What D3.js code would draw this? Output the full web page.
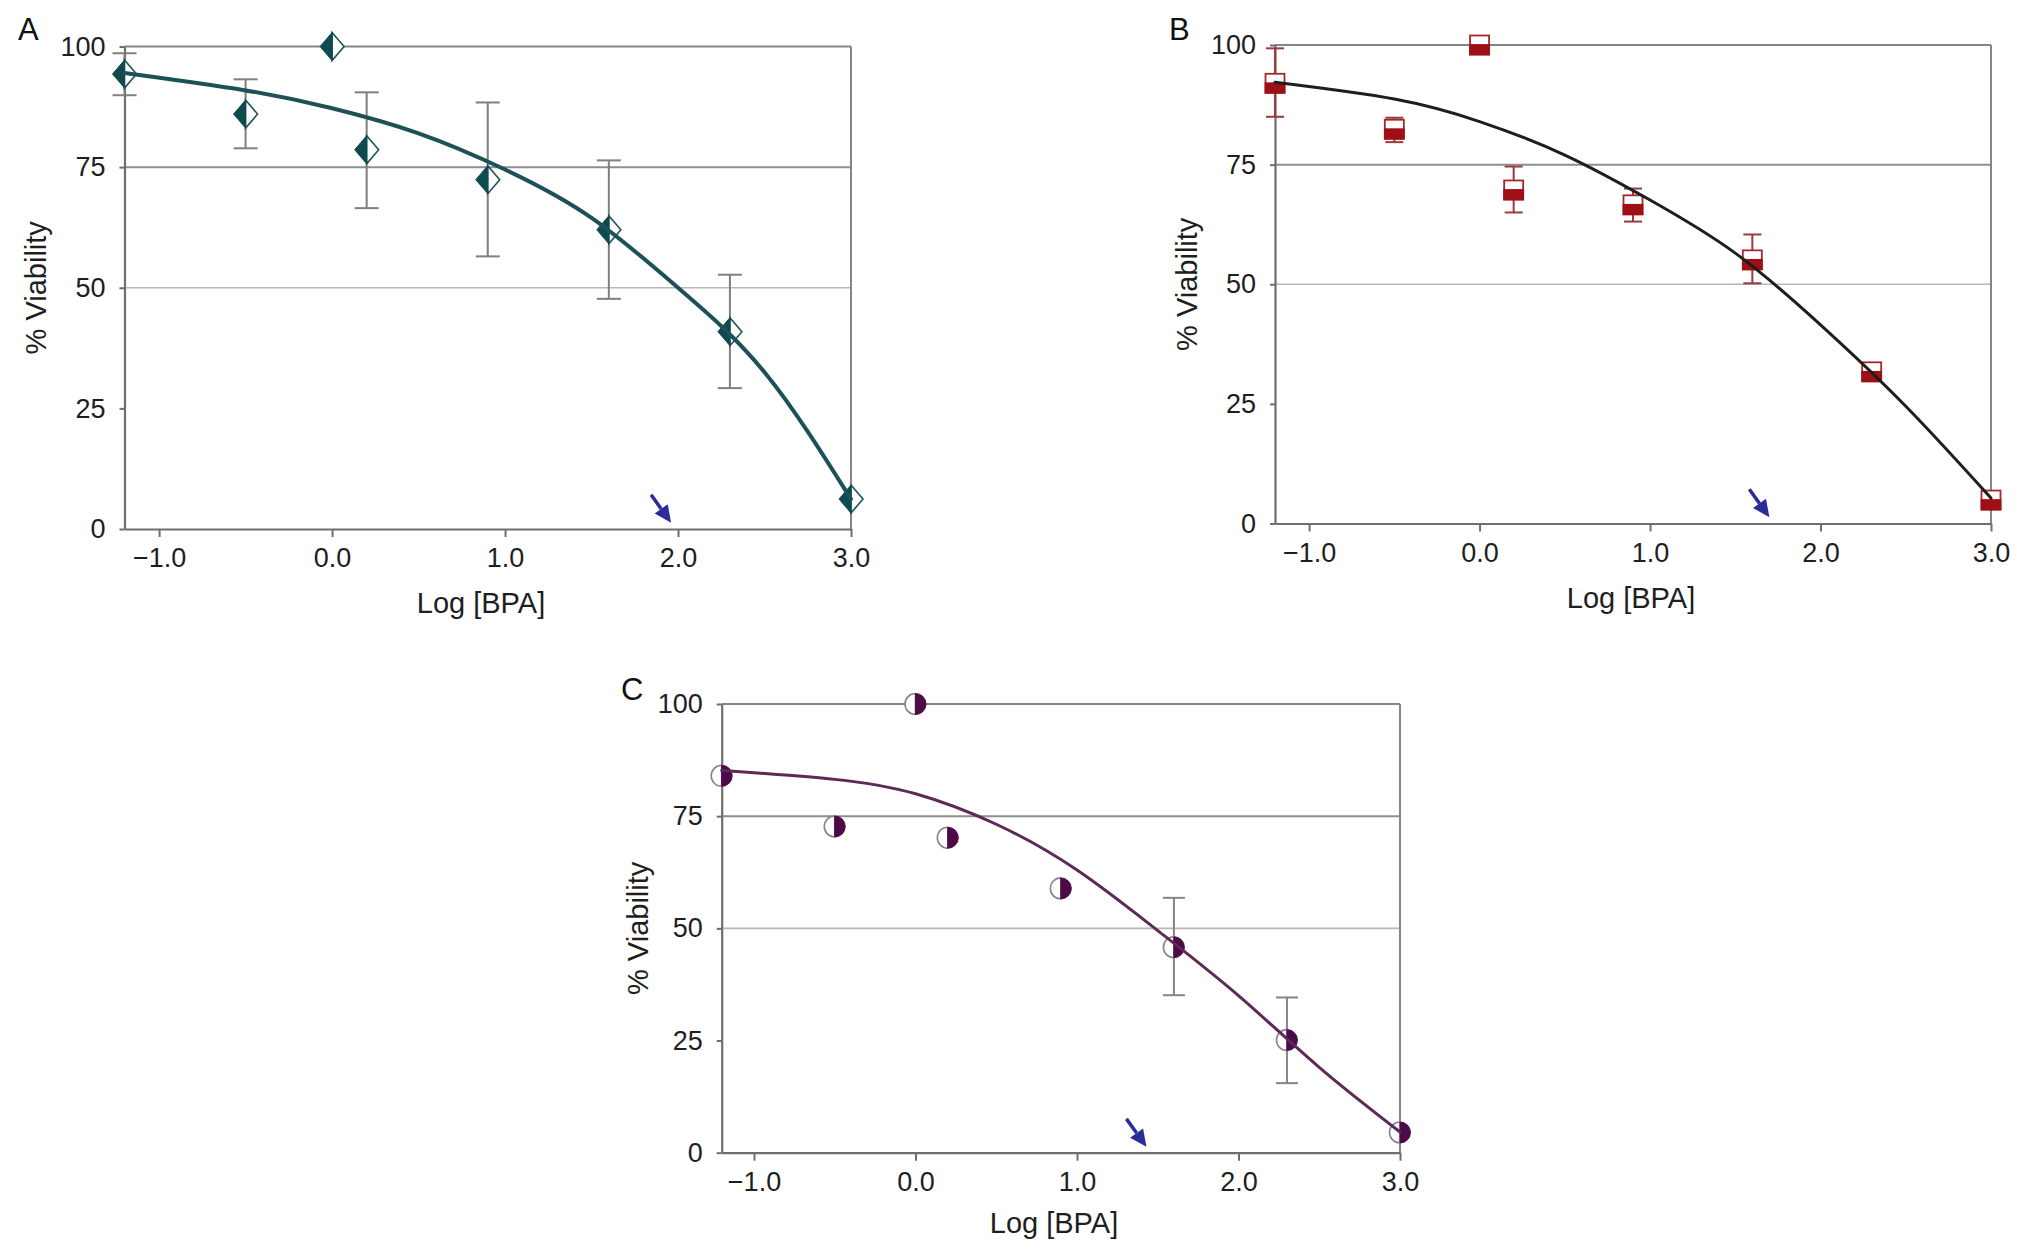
<!DOCTYPE html>
<html><head><meta charset="utf-8">
<script src="https://cdn.jsdelivr.net/npm/d3@7"></script>
<style>
body{margin:0;background:#fff}
svg{display:block}
text{font-family:"Liberation Sans",Arial,Helvetica,sans-serif}
</style>
</head><body>
<svg id="chart" width="2031" height="1251"></svg>
<script>
// ---------- data ----------
const xTicks = [-1.0, 0.0, 1.0, 2.0, 3.0];
const yTicks = [0, 25, 50, 75, 100];
const gridValues = [50, 75];
const logDose = [-1.2, -0.5, 0.0, 0.2, 0.9, 1.6, 2.3, 3.0];

const viabilityA = [94.3, 86.0, 100, 78.6, 72.4, 62.0, 40.9, 6.2];
const errLowA  = [89.9, 78.9, null, 66.5, 56.5, 47.7, 29.2, null];
const errHighA = [98.6, 93.2, null, 90.5, 88.4, 76.4, 52.7, null];
const fitXA = [-1.2, -0.5, 0, 0.5, 1.0, 1.5, 2.0, 2.5, 3.0];
const fitYA = [94.5, 90.9, 87.2, 82.0, 74.5, 64.5, 50.0, 32.5, 6.2];
const arrowA = 1.96;

const viabilityB = [92.0, 82.4, 100, 69.7, 66.6, 55.1, 31.7, 4.9];
const errLowB  = [85.0, 79.7, null, 65.0, 63.1, 50.2, null, null];
const errHighB = [99.3, 84.8, null, 74.6, 70.0, 60.4, null, null];
const fitXB = [-1.2, -0.5, 0, 0.5, 1.0, 1.5, 2.0, 2.5, 3.0];
const fitYB = [92.2, 88.7, 84.0, 77.0, 67.6, 56.5, 41.5, 24.5, 5.3];
const arrowB = 1.70;

const viabilityC = [84.0, 72.7, 100, 70.2, 58.9, 45.8, 25.1, 4.5];
const errLowC  = [null, null, null, null, null, 35.1, 15.5, null];
const errHighC = [null, null, null, null, null, 56.8, 34.6, null];
const fitXC = [-1.2, -0.5, 0, 0.5, 1.0, 1.5, 2.0, 2.5, 3.0];
const fitYC = [85.2, 83.2, 80.0, 73.2, 63.0, 49.5, 35.0, 19.0, 4.6];
const arrowC = 1.43;

const xTitle = "Log [BPA]";
const yTitle = "% Viability";

// ---------- layout / style ----------
const panels = [
  {letter:"A", left:124.5, right:851, top:46.5, bottom:529,
   letterX:18, letterY:40, yLabelX:36, xLabelX:481, xLabelY:613,
   values:viabilityA, lo:errLowA, hi:errHighA, fx:fitXA, fy:fitYA, arrow:arrowA,
   marker:"diamond", curveColor:"#1c5157", curveWidth:4, errColor:"#7f7f7f", capHalf:12},
  {letter:"B", left:1275, right:1991, top:45, bottom:523.5,
   letterX:1169, letterY:40, yLabelX:1187, xLabelX:1631, xLabelY:608,
   values:viabilityB, lo:errLowB, hi:errHighB, fx:fitXB, fy:fitYB, arrow:arrowB,
   marker:"square", curveColor:"#1e1e1e", curveWidth:3, errColor:"#9b3a3a", capHalf:9},
  {letter:"C", left:721.7, right:1400, top:704, bottom:1152.7,
   letterX:621, letterY:700, yLabelX:638, xLabelX:1054, xLabelY:1233,
   values:viabilityC, lo:errLowC, hi:errHighC, fx:fitXC, fy:fitYC, arrow:arrowC,
   marker:"circle", curveColor:"#5b2a55", curveWidth:3, errColor:"#858585", capHalf:11}
];

const svg = d3.select("#chart");
const axisColor = "#6e6e6e";

panels.forEach(p => {
  const x = d3.scaleLinear().domain([-1.2, 3.0]).range([p.left, p.right]);
  const y = d3.scaleLinear().domain([0, 100]).range([p.bottom, p.top]);
  const g = svg.append("g");

  // gridlines
  g.selectAll(".grid").data(gridValues).enter().append("line")
    .attr("x1", p.left).attr("x2", p.right)
    .attr("y1", d => y(d)).attr("y2", d => y(d))
    .attr("stroke", d => d === 75 ? "#8e8e8e" : "#b8b8b8")
    .attr("stroke-width", d => d === 75 ? 2 : 1.6);
  // top and right borders
  g.append("line").attr("x1", p.left).attr("x2", p.right)
    .attr("y1", y(100)).attr("y2", y(100))
    .attr("stroke", "#858585").attr("stroke-width", 2);
  g.append("line").attr("x1", p.right).attr("x2", p.right)
    .attr("y1", y(100)).attr("y2", y(0))
    .attr("stroke", "#858585").attr("stroke-width", 2);

  // axes
  const ya = g.append("g").attr("transform", `translate(${p.left},0)`)
    .call(d3.axisLeft(y).tickValues(yTicks).tickSize(5).tickSizeOuter(0).tickPadding(14).tickFormat(d3.format("d")));
  const xa = g.append("g").attr("transform", `translate(0,${p.bottom})`)
    .call(d3.axisBottom(x).tickValues(xTicks).tickSize(8).tickSizeOuter(0).tickPadding(11).tickFormat(d3.format(".1f")));
  [ya, xa].forEach(a => {
    a.select(".domain").attr("stroke", axisColor).attr("stroke-width", 2.2);
    a.selectAll(".tick line").attr("stroke", axisColor).attr("stroke-width", 2);
    a.selectAll(".tick text").attr("fill", "#1e1e1e").style("font-size", "27px")
      .style("font-family", '"Liberation Sans",Arial,sans-serif');
  });

  // titles
  g.append("text").attr("x", p.xLabelX).attr("y", p.xLabelY)
    .attr("text-anchor", "middle").attr("fill", "#1e1e1e").style("font-size", "29px").text(xTitle);
  g.append("text").attr("transform", `translate(${p.yLabelX},${(p.top + p.bottom) / 2}) rotate(-90)`)
    .attr("text-anchor", "middle").attr("dy", "0.35em").attr("fill", "#1e1e1e").style("font-size", "29px").text(yTitle);
  g.append("text").attr("x", p.letterX).attr("y", p.letterY)
    .attr("fill", "#111").style("font-size", "31px").text(p.letter);

  // error bars
  const pts = logDose.map((d, i) => ({x: d, v: p.values[i], lo: p.lo[i], hi: p.hi[i]}));
  const eb = g.append("g").attr("stroke", p.errColor).attr("stroke-width", 2).attr("fill", "none");
  pts.filter(d => d.lo !== null).forEach(d => {
    const cx = x(d.x);
    eb.append("line").attr("x1", cx).attr("x2", cx).attr("y1", y(d.lo)).attr("y2", y(d.hi));
    eb.append("line").attr("x1", cx - p.capHalf).attr("x2", cx + p.capHalf).attr("y1", y(d.lo)).attr("y2", y(d.lo));
    eb.append("line").attr("x1", cx - p.capHalf).attr("x2", cx + p.capHalf).attr("y1", y(d.hi)).attr("y2", y(d.hi));
  });

  // markers
  const mk = g.append("g");
  pts.forEach(d => {
    const cx = x(d.x), cy = y(d.v);
    if (p.marker === "diamond") {
      const w = 12, h = 14;
      mk.append("path").attr("d", `M${cx},${cy - h}L${cx + w},${cy}L${cx},${cy + h}Z`)
        .attr("fill", "#fff").attr("stroke", "#1c5157").attr("stroke-width", 1.6);
      mk.append("path").attr("d", `M${cx},${cy - h}L${cx - w},${cy}L${cx},${cy + h}Z`)
        .attr("fill", "#0e4a4e").attr("stroke", "#0e4a4e").attr("stroke-width", 1);
    } else if (p.marker === "square") {
      const s = 9.5;
      mk.append("rect").attr("x", cx - s).attr("y", cy - s).attr("width", 2 * s).attr("height", 2 * s)
        .attr("fill", "#fff").attr("stroke", "#a8262b").attr("stroke-width", 1.8);
      mk.append("rect").attr("x", cx - s).attr("y", cy).attr("width", 2 * s).attr("height", s)
        .attr("fill", "#9e0f16").attr("stroke", "#9e0f16").attr("stroke-width", 1.8);
    } else {
      const r = 10.5;
      mk.append("path").attr("d", `M${cx},${cy - r}A${r},${r} 0 0 0 ${cx},${cy + r}Z`)
        .attr("fill", "#fff").attr("stroke", "#8f8090").attr("stroke-width", 1.6);
      mk.append("path").attr("d", `M${cx},${cy - r}A${r},${r} 0 0 1 ${cx},${cy + r}Z`)
        .attr("fill", "#4d0a48").attr("stroke", "#4d0a48").attr("stroke-width", 1);
    }
  });

  // fitted curve
  const fit = p.fx.map((d, i) => [d, p.fy[i]]);
  g.append("path").datum(fit)
    .attr("d", d3.line().x(d => x(d[0])).y(d => y(d[1])).curve(d3.curveNatural))
    .attr("fill", "none").attr("stroke", p.curveColor).attr("stroke-width", p.curveWidth)
    .attr("stroke-linecap", "round");

  // IC50 arrow
  const tipX = x(p.arrow), tipY = y(1.3);
  const tailX = tipX - 20, tailY = tipY - 28;
  const ang = Math.atan2(tipY - tailY, tipX - tailX);
  const L = 17, W = 8;
  const bx = tipX - L * Math.cos(ang), by = tipY - L * Math.sin(ang);
  g.append("line").attr("x1", tailX).attr("y1", tailY).attr("x2", bx).attr("y2", by)
    .attr("stroke", "#2b2b9a").attr("stroke-width", 3.5);
  g.append("path")
    .attr("d", `M${tipX},${tipY}L${bx + W * Math.sin(ang)},${by - W * Math.cos(ang)}L${bx - W * Math.sin(ang)},${by + W * Math.cos(ang)}Z`)
    .attr("fill", "#2b2b9a");
});
</script>
</body></html>
